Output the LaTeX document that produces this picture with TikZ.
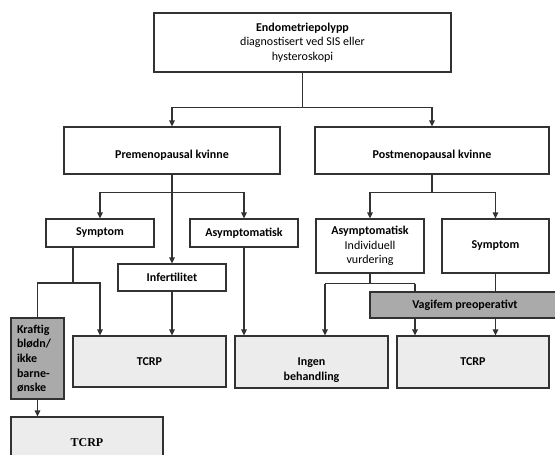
\documentclass[tikz,border=0pt]{standalone}
\usepackage{fontspec}
\setmainfont{Carlito}
\newfontfamily\serifbold{Liberation Serif}
\usepackage{tikz}
\usetikzlibrary{positioning,arrows.meta}
\definecolor{boxfill}{RGB}{236,236,236}
\definecolor{shadefill}{RGB}{170,170,170}
\definecolor{edge}{RGB}{50,50,50}
\newcommand{\lowered}[2]{\raisebox{-#1}[\height][\depth]{#2}}

\begin{document}
\begin{tikzpicture}[x=1pt,y=-1pt,
  box/.style={draw=edge,line width=1.2pt,inner sep=2pt,align=center,font=\fontsize{12}{14.6}\selectfont\bfseries},
  plainbox/.style={box,font=\fontsize{12}{14.6}\selectfont},
  result/.style={box,fill=boxfill},
  shade/.style={box,fill=shadefill},
  link/.style={draw=edge,line width=1.2pt},
  arr/.style={link,-{Triangle[length=6pt,width=5.5pt]}}]
\useasboundingbox (0,0) rectangle (555,455);
% first level
\node[plainbox,minimum width=297pt,minimum height=59pt] (top) at (302.5,42.5) {\textbf{Endometriepolypp}\\diagnostisert ved SIS eller\\hysteroskopi};
\node[box,minimum width=216pt,minimum height=47pt] (pre) at (172,150.5) {\lowered{5pt}{Premenopausal kvinne}};
\node[box,minimum width=234pt,minimum height=47pt] (post) at (432,150.5) {\lowered{5pt}{Postmenopausal kvinne}};
% premenopausal
\node[box,minimum width=108pt,minimum height=28pt] (sym1) at (100,233) {Symptom};
\node[box,minimum width=108pt,minimum height=28pt] (asy1) at (244,233) {Asymptomatisk};
\node[box,minimum width=108pt,minimum height=27pt] (inf) at (172,277.5) {Infertilitet};
\node[shade,minimum width=53pt,minimum height=81pt,text width=41pt,inner xsep=6pt,align=left] (kraftig) at (37.5,358.5) {Kraftig\\blødn/\\ikke\\barne-\\ønske};
% postmenopausal
\node[plainbox,minimum width=108pt,minimum height=54pt] (asy2) at (370,246) {\textbf{Asymptomatisk}\\Individuell\\vurdering};
\node[box,minimum width=107pt,minimum height=54pt] (sym2) at (495.5,246) {Symptom};
% results
\node[result,minimum width=153pt,minimum height=51pt] (tcrp1) at (149.5,361.5) {TCRP};
\node[result,minimum width=153pt,minimum height=52pt] (ingen) at (311.5,362) {\lowered{8pt}{\parbox{100pt}{\centering Ingen\\behandling}}};
\node[result,minimum width=152pt,minimum height=52pt] (tcrp2) at (473,362) {TCRP};
\node[result,minimum width=152pt,minimum height=51pt,font=\fontsize{12}{14.6}\serifbold\bfseries] (tcrp3) at (87,442.5) {TCRP};
% connectors
\coordinate (j0) at ([yshift=-35pt]top.south);
\draw[link] (top) -- (j0);
\draw[arr] (j0) -| (pre);
\draw[arr] (j0) -| (post);
\coordinate (j1) at ([yshift=-18pt]pre.south);
\draw[arr] (pre) -- (inf);
\draw[arr] (j1) -| (sym1);
\draw[arr] (j1) -| (asy1);
\coordinate (j2) at (73,283);
\draw[link] (sym1.south -| j2) -- (j2);
\draw[link] (j2) -| (kraftig);
\draw[arr] (j2) -| (sym1 |- tcrp1.north);
\draw[arr] (inf) -- (inf |- tcrp1.north);
\draw[arr] (asy1) -- (asy1 |- ingen.north);
\draw[arr] (kraftig) -- (kraftig |- tcrp3.north);
\coordinate (j3) at ([yshift=-18pt]post.south);
\draw[link] (post) -- (j3);
\draw[arr] (j3) -| (asy2);
\draw[arr] (j3) -| (sym2);
\coordinate (j4) at ([yshift=-10pt]asy2.south);
\draw[link] (asy2) -- (j4);
\draw[link] ([xshift=-45pt]j4) -- ([xshift=45pt]j4);
\draw[arr] ([xshift=-45pt]j4) -- ([xshift=-45pt]j4 |- ingen.north);
\draw[arr] ([xshift=45pt]j4) -- ([xshift=45pt]j4 |- tcrp2.north);
\draw[arr] (sym2) -- (sym2 |- tcrp2.north);
% drawn last, over the lines
\node[shade,minimum width=190pt,minimum height=26pt] (vagifem) at (465,305) {Vagifem preoperativt};
\end{tikzpicture}
\end{document}
